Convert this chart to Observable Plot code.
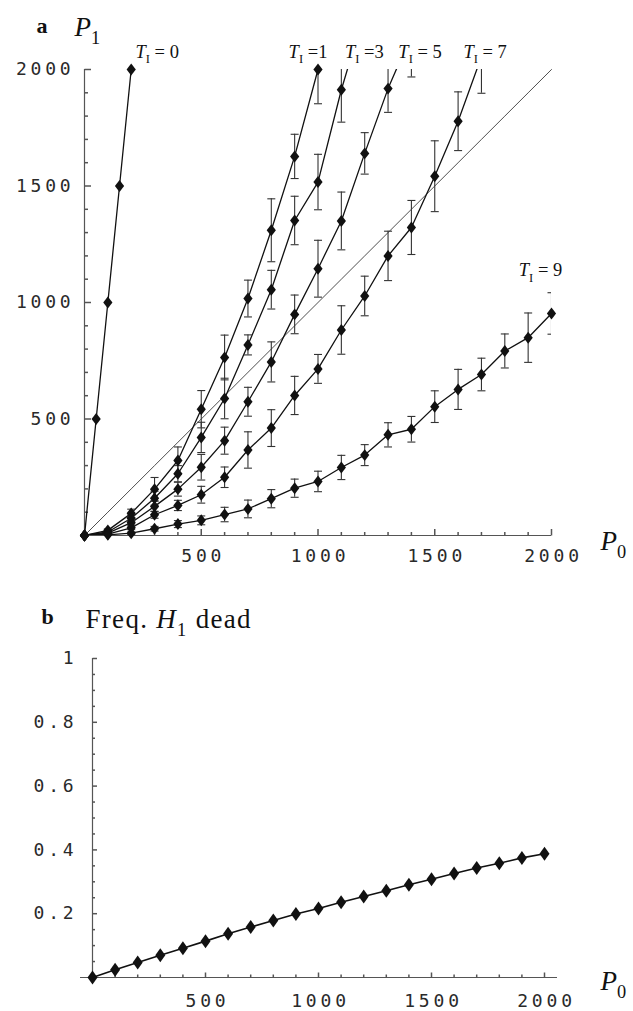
<!DOCTYPE html>
<html><head><meta charset="utf-8">
<script src="https://cdn.jsdelivr.net/npm/d3@7"></script>
<script src="https://cdn.jsdelivr.net/npm/@observablehq/plot@0.6"></script>
<style>
body{margin:0;background:#fff;}
#wrap{position:relative;width:633px;height:1011px;overflow:hidden;background:#fff;}
#wrap svg{position:absolute;left:0;overflow:visible;}
</style></head><body><div id="wrap"></div>
<script>
// ---------- data ----------
const P0 = [0,100,200,300,400,500,600,700,800,900,1000,1100,1200,1300,1400,1500,1600,1700,1800,1900,2000];
const T0_P0 = [0,50,100,150,200];
const T0_P1 = [0,500,1000,1500,2000];
const T1_P1  = [0,22,95,199,322,542,764,1017,1310,1627,2000];
const T1_ERR = [0,6,18,50,58,80,96,79,135,95,147];
const T3_P1  = [0,15,74,160,265,421,588,818,1055,1352,1517,1913,2250];
const T3_ERR = [0,5,14,30,35,65,87,43,83,104,119,139,150];
const T5_P1  = [0,10,55,125,199,293,407,574,745,949,1145,1350,1640,1918,2150];
const T5_ERR = [0,4,10,22,30,55,58,62,86,83,122,124,89,102,182];
const T7_P1  = [0,6,33,89,129,175,250,367,461,601,715,882,1028,1200,1322,1542,1778,2055];
const T7_ERR = [0,3,8,15,22,36,44,78,79,82,62,104,85,106,116,152,126,157];
const T9_P1  = [0,3,10,29,49,65,90,114,158,203,232,292,345,432,456,553,627,691,792,849,953];
const T9_ERR = [0,2,5,10,15,19,31,38,39,39,44,52,45,52,55,68,86,70,73,106,89];
const FREQ_H1_DEAD = [0,0.024,0.047,0.070,0.092,0.114,0.137,0.158,0.179,0.199,0.216,0.236,0.254,0.272,0.291,0.308,0.326,0.343,0.358,0.375,0.388];
const SERIES = ["0","1","3","5","7","9"];
const SERIES_LABELS = ["*T*_I_ = 0","*T*_I_ =1","*T*_I_ =3","*T*_I_ = 5","*T*_I_ = 7","*T*_I_ = 9"];
const X_TICKS = [500,1000,1500,2000];
const Y_TICKS_A = [500,1000,1500,2000];
const Y_TICKS_B = [0.2,0.4,0.6,0.8,1];

// ---------- build tables ----------
const p1s = [T0_P1,T1_P1,T3_P1,T5_P1,T7_P1,T9_P1];
const errs = [null,T1_ERR,T3_ERR,T5_ERR,T7_ERR,T9_ERR];
const rows = SERIES.flatMap((t,k)=>p1s[k].map((v,i)=>({t, p0: k===0 ? T0_P0[i] : P0[i], p1:v, e: errs[k] ? errs[k][i] : 0})));
const shown = rows.filter(d=>d.p1<=2000);
const withErr = rows.filter(d=>d.e>0);
const bRows = P0.map((p,i)=>({p0:p, f:FREQ_H1_DEAD[i]}));

// ---------- symbols ----------
const sym = f => ({draw(c,size){ f(c, Math.sqrt(size/Math.PI)); }});
const diamond = k => sym((c,r)=>{c.moveTo(0,-r*k);c.lineTo(r,0);c.lineTo(0,r*k);c.lineTo(-r,0);c.closePath();});
const hbar = sym((c,r)=>{c.moveTo(-r,0);c.lineTo(r,0);});
const tickRight = sym((c,r)=>{c.moveTo(0,0);c.lineTo(r,0);});
const tickUp = sym((c,r)=>{c.moveTo(0,0);c.lineTo(0,-r);});

const AX = "#555";
const TICKFONT = {fontFamily:"DejaVu Sans Mono", fontSize:18, fill:"#2a2a2a"};
const SERIF = "Liberation Serif";

// label offsets (px) relative to each series' last drawn point
const LABEL_OFF = {"0":[26,null],"1":[-10,null],"3":[23,null],"5":[32,null],"7":[27,null],"9":[-11,-43]};
const lastPts = SERIES.map(t=>{const s=shown.filter(d=>d.t===t); return s[s.length-1];});

const labelMarks = SERIES.map((t,k)=>{
  const [dx,dy] = LABEL_OFF[t];
  return dy===null
    ? Plot.text([lastPts[k]], {x:"p0", frameAnchor:"top", dx, dy:-25, text:()=>SERIES_LABELS[k], fontFamily:SERIF, fontSize:18.5, fill:"#111"})
    : Plot.text([lastPts[k]], {x:"p0", y:"p1", dx, dy, text:()=>SERIES_LABELS[k], fontFamily:SERIF, fontSize:18.5, fill:"#111"});
});

const plotA = Plot.plot({
  width:633, height:590, marginLeft:84, marginRight:82, marginTop:69, marginBottom:55,
  x:{domain:[0,2000], axis:null}, y:{domain:[0,2000], axis:null},
  style:{background:"transparent", overflow:"visible"},
  marks:[
    Plot.ruleY([0], {stroke:AX, strokeWidth:1.2}),
    Plot.ruleX([0], {stroke:AX, strokeWidth:1.2}),
    Plot.dot(d3.range(100,2001,100).filter(v=>v%500), {x:0, y:d=>d, symbol:tickRight, r:3.5, stroke:AX, fill:"none"}),
    Plot.dot(Y_TICKS_A, {x:0, y:d=>d, symbol:tickRight, r:6.5, stroke:AX, fill:"none"}),
    Plot.dot(d3.range(100,2001,100).filter(v=>v%500), {x:d=>d, y:0, symbol:tickUp, r:3.5, stroke:AX, fill:"none"}),
    Plot.dot(X_TICKS, {x:d=>d, y:0, symbol:tickUp, r:6.5, stroke:AX, fill:"none"}),
    Plot.text(X_TICKS, {x:d=>d, y:0, dy:21, dx:2, text:d=>String(d), ...TICKFONT}),
    Plot.text(Y_TICKS_A, {x:0, y:d=>d, dx:-10, textAnchor:"end", text:d=>String(d), ...TICKFONT}),
    Plot.line(P0, {x:d=>d, y:d=>d, stroke:"#222", strokeWidth:0.8}),
    Plot.line(rows, {x:"p0", y:"p1", z:"t", stroke:"#111", strokeWidth:1.3, clip:true}),
    Plot.ruleX(withErr, {x:"p0", y1:d=>d.p1-d.e, y2:d=>d.p1+d.e, stroke:"#333", strokeWidth:1.1, clip:true}),
    Plot.dot(withErr, {x:"p0", y:d=>d.p1-d.e, symbol:hbar, r:4, stroke:"#333", strokeWidth:1.1, fill:"none", clip:true}),
    Plot.dot(withErr, {x:"p0", y:d=>d.p1+d.e, symbol:hbar, r:4, stroke:"#333", strokeWidth:1.1, fill:"none", clip:true}),
    Plot.dot(shown, {x:"p0", y:"p1", symbol:diamond(1.3), r:4.6, fill:"#111", stroke:"none"}),
    ...labelMarks,
    Plot.text(["a"], {frameAnchor:"top-left", dx:-48, dy:-52, text:d=>d, fontFamily:SERIF, fontWeight:"bold", fontSize:22, fill:"#111"}),
    Plot.text(["*P*_1_"], {frameAnchor:"top-left", dx:-10, dy:-53, textAnchor:"start", text:d=>d, fontFamily:SERIF, fontSize:27, fill:"#111"}),
    Plot.text(["*P*_0_"], {frameAnchor:"bottom-right", dx:49, dy:14, textAnchor:"start", text:d=>d, fontFamily:SERIF, fontSize:27, fill:"#111"})
  ]
});
plotA.style.top = "0px";

const plotB = Plot.plot({
  width:633, height:411, marginLeft:92, marginRight:89, marginTop:58, marginBottom:34,
  x:{domain:[0,2000], axis:null}, y:{domain:[0,1], axis:null},
  style:{background:"transparent", overflow:"visible"},
  marks:[
    Plot.ruleY([0], {stroke:AX, strokeWidth:1.2, insetLeft:-12, insetRight:-13}),
    Plot.ruleX([0], {stroke:AX, strokeWidth:1.2}),
    Plot.dot(d3.range(1,21).map(i=>i*0.05).filter((v,i)=>(i+1)%4), {x:0, y:d=>d, symbol:tickRight, r:2.5, stroke:AX, fill:"none"}),
    Plot.dot(Y_TICKS_B, {x:0, y:d=>d, symbol:tickRight, r:4.5, stroke:AX, fill:"none"}),
    Plot.dot(d3.range(100,2001,100).filter(v=>v%500), {x:d=>d, y:0, symbol:tickUp, r:3, stroke:AX, fill:"none"}),
    Plot.dot(X_TICKS, {x:d=>d, y:0, symbol:tickUp, r:5, stroke:AX, fill:"none"}),
    Plot.text(X_TICKS, {x:d=>d, y:0, dy:24, dx:2, text:d=>String(d), ...TICKFONT}),
    Plot.text(Y_TICKS_B, {x:0, y:d=>d, dx:-15, textAnchor:"end", text:d=>d===1?"1":d.toFixed(1), ...TICKFONT}),
    Plot.line(bRows, {x:"p0", y:"f", stroke:"#111", strokeWidth:1.6}),
    Plot.dot(bRows, {x:"p0", y:"f", symbol:diamond(1.4), r:5, fill:"#111", stroke:"none"}),
    Plot.text(["b"], {frameAnchor:"top-left", dx:-51, dy:-50, text:d=>d, fontFamily:SERIF, fontWeight:"bold", fontSize:22, fill:"#111"}),
    Plot.text(["Freq. *H*_1_ dead"], {frameAnchor:"top-left", dx:-7, dy:-50, textAnchor:"start", text:d=>d, fontFamily:SERIF, fontSize:27, fill:"#111"}),
    Plot.text(["*P*_0_"], {frameAnchor:"bottom-right", dx:56, dy:12, textAnchor:"start", text:d=>d, fontFamily:SERIF, fontSize:27, fill:"#111"})
  ]
});
plotB.style.top = "600px";

function rich(root){
  root.querySelectorAll("text").forEach(t=>{
    const s = t.textContent;
    if (/^[\d.]+$/.test(s)) { t.setAttribute("letter-spacing","3.8"); return; }
    if (s.startsWith("Freq")) t.setAttribute("letter-spacing","1.3");
    if(!/[*_]/.test(s)) return;
    t.textContent = "";
    const re = /\*([^*]+)\*|_([^_]+)_|([^*_]+)/g; let m, pending=false;
    while((m = re.exec(s))){
      const sp = document.createElementNS("http://www.w3.org/2000/svg","tspan");
      if(m[1]){ sp.textContent=m[1]; sp.setAttribute("font-style","italic"); }
      else if(m[2]){ sp.textContent=m[2]; sp.setAttribute("font-size","0.68em"); sp.setAttribute("dy","0.45em"); pending=true; t.appendChild(sp); continue; }
      else sp.textContent = m[3];
      if(pending){ sp.setAttribute("dy","-0.306em"); pending=false; }
      t.appendChild(sp);
    }
  });
}
rich(plotA); rich(plotB);
const wrap = document.getElementById("wrap");
wrap.appendChild(plotA); wrap.appendChild(plotB);
</script></body></html>
